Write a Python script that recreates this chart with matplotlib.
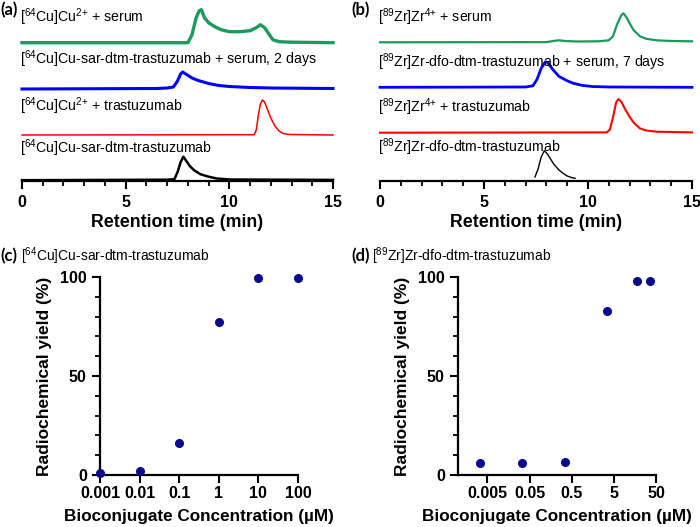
import matplotlib
matplotlib.use("Agg")
import matplotlib.pyplot as plt
import numpy as np

plt.rcParams['font.family'] = ['Liberation Sans', 'DejaVu Sans']
plt.rcParams['mathtext.fontset'] = 'custom'
plt.rcParams['mathtext.rm'] = 'Liberation Sans'
plt.rcParams['mathtext.it'] = 'Liberation Sans:italic'
plt.rcParams['mathtext.bf'] = 'Liberation Sans:bold'

# ---------------- Data: radio-HPLC traces (time in min, signal in arbitrary units) ----------
# Panel (a): 64Cu
a_green_t = [0, 8.0, 8.2, 8.4, 8.55, 8.65, 8.8, 9.0, 9.3, 9.6, 10.0, 10.5, 11.0, 11.3, 11.5, 11.7, 11.9, 12.1, 12.4, 13.0, 15.0]
a_green_y = [0, 0, 8, 25, 32, 33, 25, 20, 16, 13, 11, 11, 12, 15, 18, 15, 9, 3, 1, 0.5, 0]
a_blue_t = [0, 6.5, 7.0, 7.3, 7.5, 7.65, 7.75, 7.9, 8.2, 8.5, 9.0, 9.5, 10.0, 11.0, 12.0, 15.0]
a_blue_y = [0, 0.5, 1, 2, 8, 15, 17, 15, 11, 8.5, 5.5, 3.5, 2.5, 1.5, 1, 0.5]
a_red_t = [0, 11.2, 11.3, 11.4, 11.5, 11.6, 11.7, 11.85, 12.0, 12.2, 12.4, 12.6, 12.9, 15.0]
a_red_y = [0, 0.3, 5, 20, 31, 35, 33, 25, 17, 9, 4, 1.5, 0.5, 0]
a_black_t = [0, 7.0, 7.35, 7.5, 7.65, 7.78, 7.9, 8.1, 8.3, 8.6, 9.0, 9.4, 10.0, 15.0]
a_black_y = [0, 0.5, 1, 8, 18, 23.5, 20, 14, 10, 6, 3.5, 1.7, 0.7, 0.3]

# Panel (b): 89Zr
b_green_t = [0, 8.0, 8.4, 8.6, 8.9, 9.5, 10.5, 11.0, 11.2, 11.4, 11.6, 11.7, 11.85, 12.0, 12.2, 12.5, 12.8, 13.3, 14.0, 15.0]
b_green_y = [0, 0.2, 1.5, 2, 1.3, 0.8, 1, 2, 6, 18, 27, 29, 25, 19, 12, 6, 3.5, 2, 1.3, 1]
b_blue_t = [0, 7.0, 7.35, 7.55, 7.75, 7.95, 8.05, 8.3, 8.6, 9.0, 9.3, 9.7, 10.2, 11.0, 15.0]
b_blue_y = [0, 0.3, 1.5, 8, 19, 25.5, 25, 18, 11, 6.5, 4, 2, 0.8, 0.3, 0]
b_red_t = [0, 10.9, 11.05, 11.2, 11.35, 11.46, 11.6, 11.8, 12.0, 12.2, 12.5, 12.8, 13.3, 15.0]
b_red_y = [0, 0.3, 3, 15, 30, 33.7, 31, 23, 16, 10, 4.3, 2.2, 1, 0.3]
b_black_t = [7.45, 7.6, 7.75, 7.9, 8.05, 8.2, 8.35, 8.6, 8.8, 9.0, 9.2, 9.38]
b_black_y = [4, 12, 24, 30.3, 27, 22, 17, 11, 7.7, 5, 3.5, 2.7]

# ---------------- Data: radiochemical yield vs concentration ----------
c_conc = [0.001, 0.01, 0.1, 1, 10, 100]
c_yield = [1.0, 1.8, 16.1, 77.1, 99.7, 99.7]
c_ticks = [0.001, 0.01, 0.1, 1, 10, 100]
c_ticklabels = ['0.001', '0.01', '0.1', '1', '10', '100']

d_conc = [0.0033, 0.033, 0.35, 3.5, 18, 37]
d_yield = [5.9, 6.2, 6.5, 82.9, 98.0, 98.0]
d_ticks = [0.005, 0.05, 0.5, 5, 50]
d_ticklabels = ['0.005', '0.05', '0.5', '5', '50']

a_labels = [r'[$^{64}$Cu]Cu$^{2{+}}$ + serum',
            r'[$^{64}$Cu]Cu-sar-dtm-trastuzumab + serum, 2 days',
            r'[$^{64}$Cu]Cu$^{2{+}}$ + trastuzumab',
            r'[$^{64}$Cu]Cu-sar-dtm-trastuzumab']
b_labels = [r'[$^{89}$Zr]Zr$^{4{+}}$ + serum',
            r'[$^{89}$Zr]Zr-dfo-dtm-trastuzumab + serum, 7 days',
            r'[$^{89}$Zr]Zr$^{4{+}}$ + trastuzumab',
            r'[$^{89}$Zr]Zr-dfo-dtm-trastuzumab']

GREEN = '#1a9a5c'
BLUE = '#0000ff'
RED = '#ff0000'
BLACK = '#000000'
NAVY = '#0a0a8c'

W, H = 700, 527
fig = plt.figure(figsize=(7, 5.27), dpi=100)

def px_axes(x0, y_top, x1, y_bot):
    return fig.add_axes([x0 / W, 1 - y_bot / H, (x1 - x0) / W, (y_bot - y_top) / H])

def chrom_axes(ax):
    ax.set_xlim(0, 15)
    ax.set_ylim(0, 181)
    for s in ['left', 'right', 'top']:
        ax.spines[s].set_visible(False)
    ax.spines['bottom'].set_linewidth(1.6)
    ax.set_yticks([])
    ax.set_xticks([0, 5, 10, 15])
    ax.set_xticks(np.arange(0, 16, 1), minor=True)
    ax.tick_params(axis='x', which='major', length=6, width=1.5, labelsize=11.5, pad=4)
    ax.tick_params(axis='x', which='minor', length=3.5, width=1.3)
    for lab in ax.get_xticklabels():
        lab.set_fontweight('bold')
    ax.set_xlabel('Retention time (min)', fontsize=12.8, fontweight='bold', labelpad=3)
    ax.patch.set_alpha(0)

# Panel (a)
axa = px_axes(22, 0, 333, 181)
chrom_axes(axa)
a_off = [138.3, 92, 46, 0.8]
for (t, y, col, lw, off) in [(a_green_t, a_green_y, GREEN, 2.4, a_off[0]),
                              (a_blue_t, a_blue_y, BLUE, 2.2, a_off[1]),
                              (a_red_t, a_red_y, RED, 1.1, a_off[2]),
                              (a_black_t, a_black_y, BLACK, 1.8, a_off[3])]:
    axa.plot(t, np.array(y) + off, color=col, lw=lw, clip_on=False)
a_lab_y = [181 - 17, 181 - 59, 181 - 106, 181 - 148]
for lab, yy in zip(a_labels, a_lab_y):
    axa.text(-0.1, yy, lab, fontsize=10.2, va='center', ha='left')

# Panel (b)
axb = px_axes(380, 0, 692, 181)
chrom_axes(axb)
b_off = [138.7, 93.7, 48.3, 0]
for (t, y, col, lw, off) in [(b_green_t, b_green_y, GREEN, 1.6, b_off[0]),
                              (b_blue_t, b_blue_y, BLUE, 2.0, b_off[1]),
                              (b_red_t, b_red_y, RED, 1.5, b_off[2]),
                              (b_black_t, b_black_y, BLACK, 1.0, b_off[3])]:
    axb.plot(t, np.array(y) + off, color=col, lw=lw, clip_on=False)
b_lab_y = [181 - 17, 181 - 62, 181 - 107, 181 - 147]
for lab, yy in zip(b_labels, b_lab_y):
    axb.text(-0.1, yy, lab, fontsize=10.2, va='center', ha='left')

fig.text(0 / W, 1 - 10 / H, '(a)', fontsize=12, fontweight='bold', family='Lato', va='center', ha='left')
fig.text(351 / W, 1 - 10 / H, '(b)', fontsize=12, fontweight='bold', family='Lato', va='center', ha='left')

def yield_axes(ax, ticks, ticklabels, xlim):
    ax.set_xscale('log')
    ax.set_xlim(*xlim)
    ax.set_ylim(0, 100)
    for s in ['right', 'top']:
        ax.spines[s].set_visible(False)
    for s in ['left', 'bottom']:
        ax.spines[s].set_linewidth(1.6)
    ax.set_yticks([0, 50, 100])
    ax.set_yticks(np.arange(0, 101, 10), minor=True)
    ax.set_xticks(ticks)
    ax.set_xticklabels(ticklabels)
    ax.xaxis.set_minor_locator(matplotlib.ticker.NullLocator())
    ax.tick_params(which='major', length=6, width=1.5, labelsize=11.5)
    ax.tick_params(axis='x', which='major', pad=2)
    ax.tick_params(axis='y', which='minor', length=3.5, width=1.3)
    for lab in ax.get_xticklabels() + ax.get_yticklabels():
        lab.set_fontweight('bold')
    ax.set_ylabel('Radiochemical yield (%)', fontsize=12.5, fontweight='bold', labelpad=6)
    ax.set_xlabel('Bioconjugate Concentration (µM)', fontsize=12.3, fontweight='bold', labelpad=6)

axc = px_axes(100, 277, 298, 475)
yield_axes(axc, c_ticks, c_ticklabels, (0.001, 100))
axc.plot(c_conc, c_yield, 'o', color=NAVY, ms=5.5, clip_on=False, zorder=5)

axd = px_axes(458, 277, 656, 475)
yield_axes(axd, d_ticks, d_ticklabels, (0.001, 50))
axd.plot(d_conc, d_yield, 'o', color=NAVY, ms=5.5, clip_on=False, zorder=5)

fig.text(0 / W, 1 - 256 / H, '(c)', fontsize=12, fontweight='bold', family='Lato', va='center', ha='left')
fig.text(21 / W, 1 - 256 / H, r'[$^{64}$Cu]Cu-sar-dtm-trastuzumab', fontsize=10, va='center', ha='left')
fig.text(351 / W, 1 - 256 / H, '(d)', fontsize=12, fontweight='bold', family='Lato', va='center', ha='left')
fig.text(372 / W, 1 - 256 / H, r'[$^{89}$Zr]Zr-dfo-dtm-trastuzumab', fontsize=10, va='center', ha='left')

fig.savefig('out.png', dpi=100)
